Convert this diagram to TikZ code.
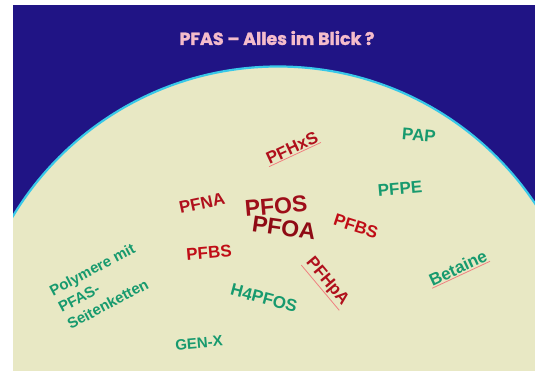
\documentclass[tikz,border=0pt]{standalone}
\usepackage{fontspec}
\setmainfont{Liberation Sans}
\newfontfamily\titlefont{Poppins}[BoldFeatures={FakeBold=1.6}]
\definecolor{nightblue}{HTML}{201485}
\definecolor{paper}{HTML}{E8E8C4}
\definecolor{rim}{HTML}{38C8E8}
\definecolor{titlepink}{HTML}{F4BCCB}
\definecolor{pfred}{HTML}{B0101C}
\definecolor{pfdark}{HTML}{8E0A14}
\definecolor{pfgreen}{HTML}{179A6E}
\definecolor{squig}{HTML}{F08080}
\tikzset{
  red word/.style={text=pfred, font=\bfseries\fontsize{17}{19}\selectfont, inner sep=1pt},
  green word/.style={text=pfgreen, font=\bfseries\fontsize{17}{19}\selectfont, inner sep=1pt},
  big word/.style={text=pfdark, font=\bfseries\fontsize{23}{25}\selectfont, inner sep=1pt},
  squiggle/.style={draw=squig, line width=0.8pt}
}
\begin{document}
\begin{tikzpicture}[x=1pt, y=-1pt]
  \useasboundingbox (0,0) rectangle (535,371);
  % background and the bowl
  \fill[nightblue] (13,5) rectangle (535,371);
  \begin{scope}
    \clip (13,5) rectangle (535,371);
    \draw[rim, line width=2.2pt, fill=paper] (278,376) circle (309.5);
  \end{scope}
  \node (title) at (277,38) [text=titlepink, font=\titlefont\bfseries\fontsize{17.5}{19}\selectfont] {PFAS – Alles im Blick ?};

  % red ones
  \node (pfhxs) at (292,148) [red word, rotate=25] {PFHxS};
  \draw[squiggle] (pfhxs.south west) -- (pfhxs.south east);
  \node (pfna) at (202,203) [red word, rotate=12] {PFNA};
  \node (pfos) at (276,206) [big word, text=pfred!90!black, rotate=5] {PFOS};
  \node (pfoa) at (284,228) [big word, rotate=-8] {PFOA};
  \node (pfbsr) at (356,226) [red word, text=pfred!80!red, rotate=-18] {PFBS};
  \node (pfbsl) at (209,253) [red word, text=pfred!80!red, rotate=5] {PFBS};
  \node (pfhpa) at (327,282) [red word, rotate=-50] {PFHpA};
  \draw[squiggle] (pfhpa.south west) -- (pfhpa.south east);

  % green ones
  \node (pap) at (419,135) [green word, rotate=-5] {PAP};
  \node (pfpe) at (400,189) [green word, rotate=5] {PFPE};
  \node (betaine) at (458,268) [green word, rotate=25] {Betaine};
  \draw[squiggle] (betaine.south west) -- (betaine.south east);
  \node (h4pfos) at (264,298) [green word, rotate=-15] {H4PFOS};
  \node (genx) at (199,343) [green word, font=\bfseries\fontsize{15}{17}\selectfont, rotate=5] {GEN-X};
  \node (polymere) at (101,286) [green word, font=\bfseries\fontsize{15}{19}\selectfont, align=left, rotate=28] {Polymere mit\\PFAS-\\Seitenketten};
\end{tikzpicture}
\end{document}
